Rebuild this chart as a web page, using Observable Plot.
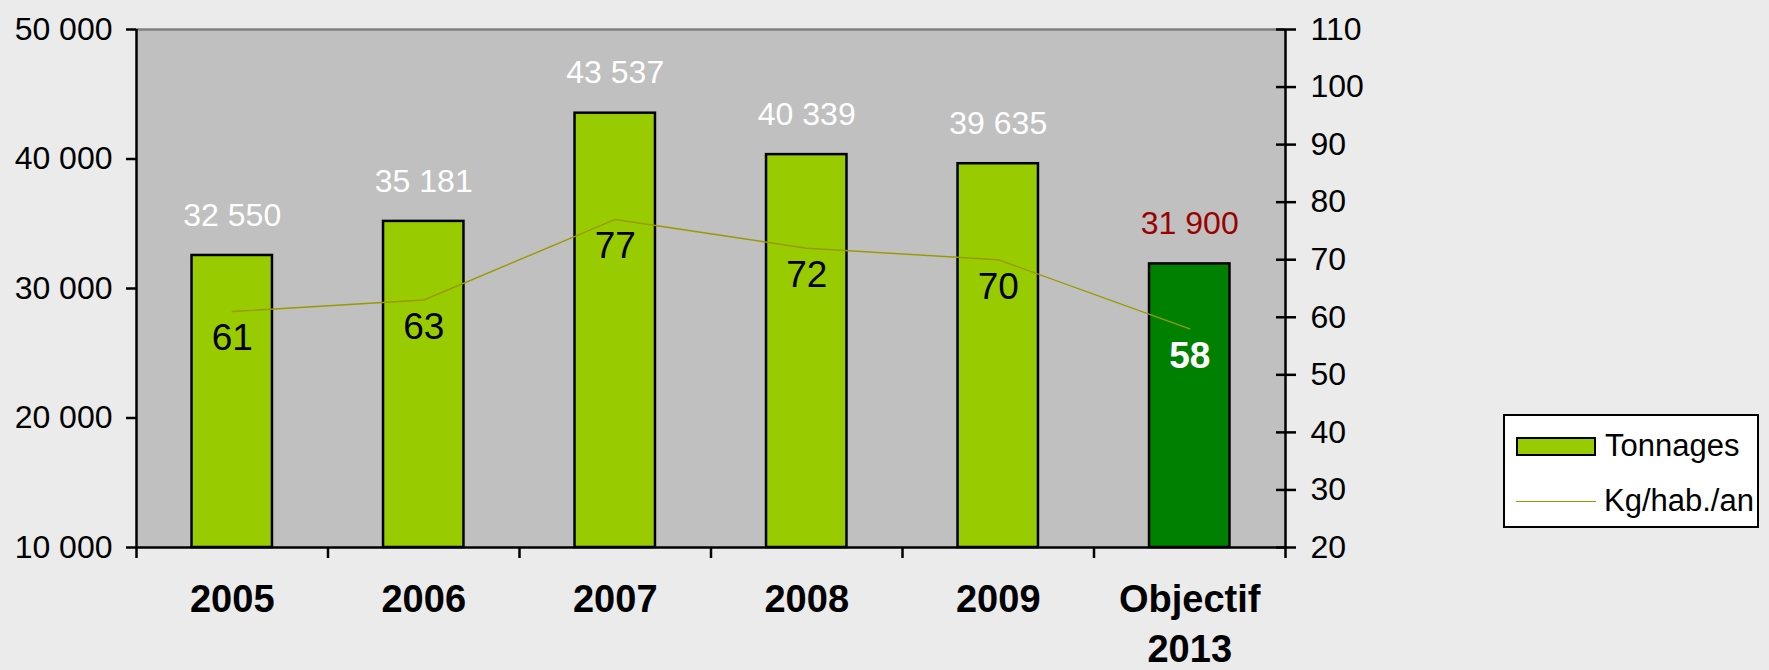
<!DOCTYPE html>
<html>
<head>
<meta charset="utf-8">
<script src="https://cdn.jsdelivr.net/npm/d3@7"></script>
<script src="https://cdn.jsdelivr.net/npm/@observablehq/plot@0.6"></script>
<style>
  html, body { margin: 0; padding: 0; background: #ebebeb; }
  #wrap { position: relative; width: 1769px; height: 670px; font-family: "Liberation Sans", Arial, sans-serif; }
  #legend { position: absolute; left: 1503px; top: 414px; width: 256px; height: 114px; border: 2px solid #000; background: #fff; box-sizing: border-box; }
  .li { position: absolute; left: 11px; display: flex; align-items: center; font-size: 31px; color: #000; white-space: nowrap; }
  .sw { width: 76px; height: 15px; background: #99cc00; border: 2.5px solid #000; margin-right: 9px; }
  .ln { width: 80px; height: 0; border-top: 1.5px solid #999900; margin-right: 8px; }
</style>
</head>
<body>
<div id="wrap">
  <div id="chart"></div>
  <div id="legend">
    <div class="li" style="top:12px"><div class="sw"></div><span>Tonnages</span></div>
    <div class="li" style="top:67px"><div class="ln"></div><span>Kg/hab./an</span></div>
  </div>
</div>
<script>
const categories = ["2005", "2006", "2007", "2008", "2009", "Objectif\n2013"];
const tonnages = [32550, 35181, 43537, 40339, 39635, 31900];
const kgHab = [61, 63, 77, 72, 70, 58];
const leftTicks = [10000, 20000, 30000, 40000, 50000];
const rightTicks = [20, 30, 40, 50, 60, 70, 80, 90, 100, 110];

const yMin = 10000, yMax = 50000, kMin = 20, kMax = 110;
const toLeft = v => yMin + (v - kMin) / (kMax - kMin) * (yMax - yMin);
const fromLeft = v => kMin + (v - yMin) / (yMax - yMin) * (kMax - kMin);
const fmt = v => d3.format(",")(v).replace(/,/g, " ");

const data = categories.map((c, i) => ({
  cat: c, i, xc: i + 0.5, x1: i + 0.29, x2: i + 0.71,
  t: tonnages[i], k: toLeft(kgHab[i]), kv: kgHab[i],
  obj: c.startsWith("Objectif")
}));
const normal = data.filter(d => !d.obj);
const objective = data.filter(d => d.obj);

const chart = Plot.plot({
  width: 1769,
  height: 670,
  marginLeft: 136,
  marginRight: 484,
  marginTop: 29,
  marginBottom: 123,
  style: { background: "transparent", fontFamily: "Liberation Sans, Arial, sans-serif", color: "#000" },
  x: { type: "linear", domain: [0, categories.length] },
  y: { domain: [yMin, yMax] },
  marks: [
    Plot.frame({ fill: "#c0c0c0", stroke: null }),
    Plot.ruleY([yMax], { stroke: "#808080", strokeWidth: 2.5 }),
    Plot.rectY(normal, { x1: "x1", x2: "x2", y1: yMin, y2: "t", fill: "#99cc00", stroke: "#000", strokeWidth: 2.5 }),
    Plot.rectY(objective, { x1: "x1", x2: "x2", y1: yMin, y2: "t", fill: "#008000", stroke: "#000", strokeWidth: 2.5 }),
    Plot.line(data, { x: "xc", y: "k", stroke: "#999900", strokeWidth: 1.4 }),
    Plot.text(normal, { x: "xc", y: "t", text: d => fmt(d.t), dy: -40, fill: "#ffffff", fontSize: 32 }),
    Plot.text(objective, { x: "xc", y: "t", text: d => fmt(d.t), dy: -40, fill: "#990000", fontSize: 32 }),
    Plot.text(normal, { x: "xc", y: "k", text: d => String(d.kv), dy: 27, fill: "#000", fontSize: 37 }),
    Plot.text(objective, { x: "xc", y: "k", text: d => String(d.kv), dy: 27, fill: "#fff", fontSize: 37, fontWeight: "bold" }),
    Plot.ruleX([0, categories.length], { stroke: "#000", strokeWidth: 2.5 }),
    Plot.ruleY([yMin], { stroke: "#000", strokeWidth: 2.5 }),
    Plot.axisY(leftTicks, { anchor: "left", tickSize: 10, tickPadding: 14, tickFormat: fmt, fontSize: 32, strokeWidth: 2.5, label: null }),
    Plot.axisY(rightTicks.map(toLeft), { anchor: "right", tickSize: 10, tickPadding: 15, tickFormat: v => String(Math.round(fromLeft(v))), fontSize: 32, strokeWidth: 2.5, label: null }),
    Plot.axisY(rightTicks.map(toLeft), { anchor: "right", tickSize: -10, tickFormat: () => "", strokeWidth: 2.5, label: null }),
    Plot.axisX(d3.range(categories.length + 1), { anchor: "bottom", tickSize: 11, tickFormat: () => "", strokeWidth: 2.5, label: null }),
    Plot.axisX(data.map(d => d.xc), { anchor: "bottom", tickSize: 0, tickPadding: 29, tickFormat: v => categories[Math.floor(v)], fontSize: 38, fontWeight: "bold", lineHeight: 1.32, label: null })
  ]
});
document.getElementById("chart").appendChild(chart);
</script>
</body>
</html>
